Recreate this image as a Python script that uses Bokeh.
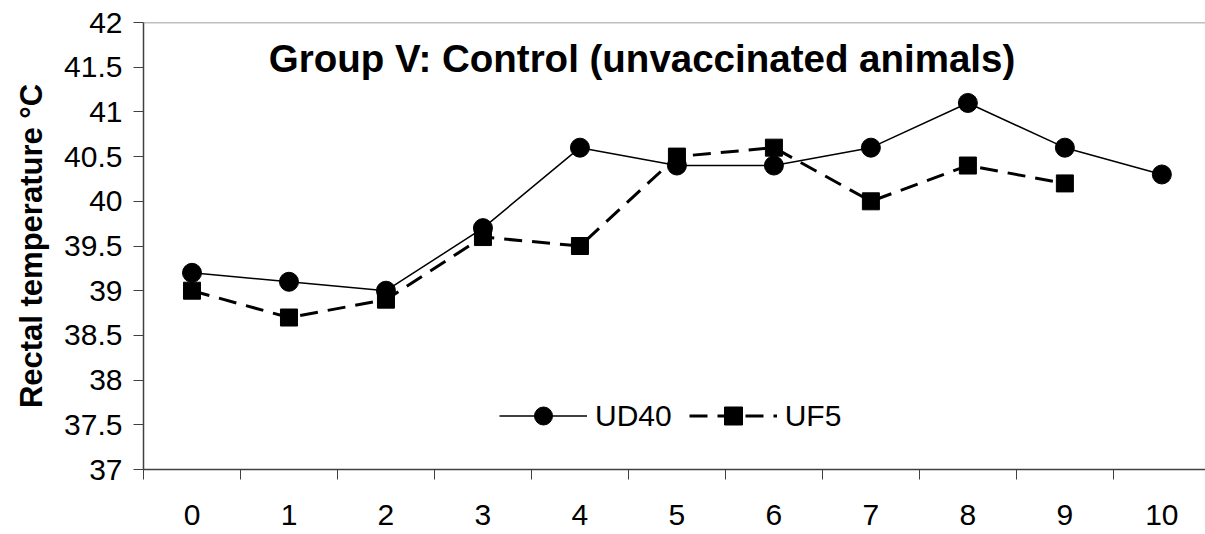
from bokeh.plotting import figure
from bokeh.models import FixedTicker, Span, Label, Legend, LegendItem, Range1d
from bokeh.embed import file_html
from bokeh.resources import INLINE

days = [0, 1, 2, 3, 4, 5, 6, 7, 8, 9, 10]
ud40 = [39.2, 39.1, 39.0, 39.7, 40.6, 40.4, 40.4, 40.6, 41.1, 40.6, 40.3]
uf5_days = [0, 1, 2, 3, 4, 5, 6, 7, 8, 9]
uf5 = [39.0, 38.7, 38.9, 39.6, 39.5, 40.5, 40.6, 40.0, 40.4, 40.2]
y_ticks = [37, 37.5, 38, 38.5, 39, 39.5, 40, 40.5, 41, 41.5, 42]
y_tick_labels = ["37", "37.5", "38", "38.5", "39", "39.5", "40", "40.5", "41", "41.5", "42"]
x_tick_labels = [str(d) for d in days]

FONT = "Liberation Sans"

p = figure(width=1205, height=534, output_backend="svg", toolbar_location=None,
           x_range=Range1d(-0.5, 10.45), y_range=Range1d(37, 42),
           min_border_left=143, min_border_right=0, min_border_top=22, min_border_bottom=65)
p.outline_line_color = None
p.xgrid.visible = False
p.ygrid.visible = False
p.background_fill_color = "white"

# top line at 42
p.add_layout(Span(location=42, dimension="width", line_color="#808080", line_width=1.5))

# axes
p.xaxis.ticker = FixedTicker(ticks=days, minor_ticks=[d - 0.5 for d in days] + [10.5])
p.xaxis.major_label_overrides = {d: s for d, s in zip(days, x_tick_labels)}
p.xaxis.major_tick_out = 0
p.xaxis.major_tick_in = 0
p.xaxis.minor_tick_out = 10
p.xaxis.minor_tick_in = 0
p.xaxis.minor_tick_line_color = "#404040"
p.xaxis.axis_line_color = "#404040"
p.xaxis.axis_line_width = 1.5
p.xaxis.major_label_standoff = 25
p.xaxis.major_label_text_font = FONT
p.xaxis.major_label_text_font_size = "30px"
p.xaxis.major_label_text_color = "black"

p.yaxis.ticker = FixedTicker(ticks=y_ticks)
p.yaxis.major_label_overrides = {t: s for t, s in zip(y_ticks, y_tick_labels)}
p.yaxis.major_tick_out = 10
p.yaxis.major_tick_in = 0
p.yaxis.minor_tick_out = 0
p.yaxis.minor_tick_in = 0
p.yaxis.major_tick_line_color = "#404040"
p.yaxis.axis_line_color = "#404040"
p.yaxis.axis_line_width = 1.5
p.yaxis.major_label_standoff = 11
p.yaxis.major_label_text_font = FONT
p.yaxis.major_label_text_font_size = "30px"
p.yaxis.major_label_text_color = "black"
p.yaxis.axis_label = "Rectal temperature °C"
p.yaxis.axis_label_text_font = FONT
p.yaxis.axis_label_text_font_size = "31px"
p.yaxis.axis_label_text_font_style = "bold"
p.yaxis.axis_label_text_color = "black"
p.yaxis.axis_label_standoff = 12

# series
l1 = p.line(days, ud40, line_color="black", line_width=1.5)
m1 = p.scatter(days, ud40, marker="circle", size=19, fill_color="black", line_color="black")
l2 = p.line(uf5_days, uf5, line_color="black", line_width=3, line_dash="18 10")
m2 = p.scatter(uf5_days, uf5, marker="square", size=17, fill_color="black", line_color="black")

legend = Legend(items=[LegendItem(label="UD40", renderers=[l1, m1]),
                       LegendItem(label="UF5", renderers=[l2, m2])],
                orientation="horizontal", location=(356, 31),
                glyph_width=88, glyph_height=45, label_standoff=8, spacing=17,
                padding=0, margin=0, border_line_color=None, background_fill_alpha=0,
                label_text_font=FONT, label_text_font_size="30px", label_text_color="black")
p.add_layout(legend, "center")

title = Label(x=4.64, y=41.6, text="Group V: Control (unvaccinated animals)",
              text_font=FONT, text_font_size="38.5px", text_font_style="bold",
              text_align="center", text_baseline="alphabetic", text_color="black")
p.add_layout(title)

open("out.html", "w").write(file_html(p, INLINE))
